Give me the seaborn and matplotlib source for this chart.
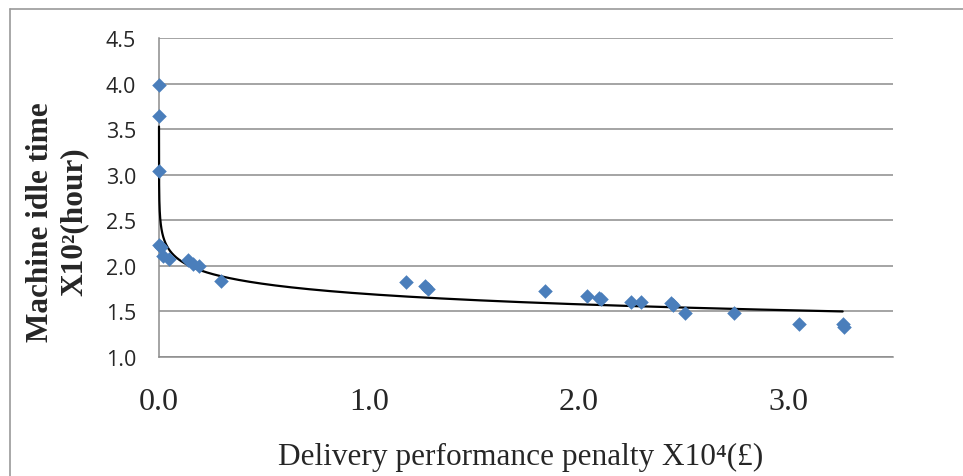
import numpy as np
import pandas as pd
import matplotlib
matplotlib.use("Agg")
import matplotlib.pyplot as plt
from matplotlib.lines import Line2D
import seaborn as sns

# Delivery performance penalty (x10^4 GBP) and machine idle time (x10^2 hours)
penalty = [0.0, 0.0, 0.0, 0.0, 0.01, 0.02, 0.05, 0.14, 0.16, 0.19, 0.295,
           1.177, 1.268, 1.284, 1.842, 2.043, 2.10, 2.11, 2.253, 2.296,
           2.443, 2.45, 2.51, 2.74, 3.053, 3.26, 3.265]
idle_time = [3.98, 3.64, 3.045, 2.23, 2.21, 2.11, 2.08, 2.06, 2.02, 1.995, 1.83,
             1.82, 1.78, 1.75, 1.72, 1.666, 1.644, 1.64, 1.60, 1.60,
             1.59, 1.575, 1.48, 1.48, 1.36, 1.36, 1.33]

# Logarithmic trend: idle = a + b * ln(penalty)
trend_a = 1.69
trend_b = -0.161
trend_start = 1.1e-5
trend_end = 3.26

x_ticks = [0.0, 1.0, 2.0, 3.0]
y_ticks = [1.0, 1.5, 2.0, 2.5, 3.0, 3.5, 4.0, 4.5]

points = pd.DataFrame({"penalty": penalty, "idle": idle_time})
trend_x = np.geomspace(trend_start, trend_end, 400)
trend = pd.DataFrame({"penalty": trend_x, "idle": trend_a + trend_b * np.log(trend_x)})

sns.set_style("white")
serif = ["Liberation Serif", "DejaVu Serif"]
plt.rcParams["font.family"] = serif

W, H = 963, 477
fig = plt.figure(figsize=(W / 100, H / 100), dpi=100)
ax = fig.add_axes([159 / W, 1 - 358 / H, (893 - 159) / W, (358 - 39) / H])

grid_col = "#8c8c8c"
for yv in y_ticks:
    ax.axhline(yv, color=grid_col, lw=1.1, zorder=0)

sns.lineplot(data=trend, x="penalty", y="idle", ax=ax, color="black",
             lw=1.6, sort=False, estimator=None, zorder=2, clip_on=False)
sns.scatterplot(data=points, x="penalty", y="idle", ax=ax, marker="D",
                s=55, color="#4A7EBB", linewidth=0, zorder=3, clip_on=False)

ax.set_xlim(0, 3.5)
ax.set_ylim(1.0, 4.5)
ax.set_xticks(x_ticks)
ax.set_yticks(y_ticks)
ax.set_xticklabels([f"{v:.1f}" for v in x_ticks], fontsize=23, family=serif)
ax.set_yticklabels([f"{v:.1f}" for v in y_ticks], fontsize=15.5,
                   family=["Open Sans", "DejaVu Sans"])
ax.tick_params(axis="both", direction="out", length=6.5, width=1.0, color=grid_col)
ax.tick_params(axis="y", pad=10)
ax.tick_params(axis="x", pad=15)
ax.set_xlabel("")
ax.set_ylabel("")

for side in ("top", "right"):
    ax.spines[side].set_visible(False)
for side in ("left", "bottom"):
    ax.spines[side].set_color(grid_col)
    ax.spines[side].set_linewidth(1.1)
    ax.spines[side].set_zorder(1)

fig.text(521 / W, 1 - 465 / H, "Delivery performance penalty X10\u2074(\u00a3)",
         ha="center", va="baseline", fontsize=22.5, family=serif)
fig.text(57 / W, 1 - 222 / H, "Machine idle time\nX10\u00b2(hour)", rotation=90,
         ha="center", va="center", multialignment="center", fontsize=22.5,
         fontweight="bold", linespacing=1.2, family=serif)

# Chart frame (top and left edges)
frame_col = "#9a9a9a"
fig.add_artist(Line2D([10 / W, 1], [1 - 10 / H, 1 - 10 / H], color=frame_col, lw=1.2,
                      transform=fig.transFigure))
fig.add_artist(Line2D([10 / W, 10 / W], [0, 1 - 10 / H], color=frame_col, lw=1.2,
                      transform=fig.transFigure))

fig.savefig("out.png", dpi=100)
